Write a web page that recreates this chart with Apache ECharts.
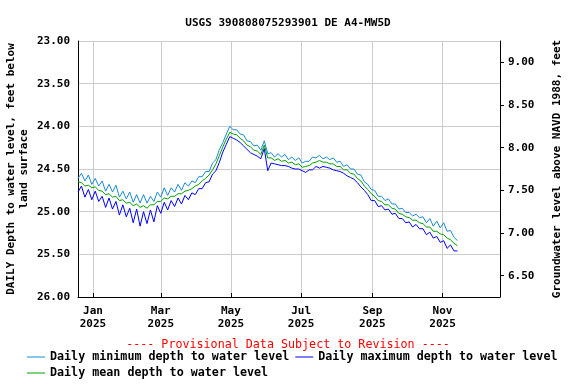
<!DOCTYPE html>
<html lang="en">
<head>
    <meta charset="UTF-8">
    <title>USGS 390808075293901 DE A4-MW5D</title>
    <style>
        body{ margin:0; background:#fff; }
        .container{ width:576px; height:384px; }
    </style>
    <script src="https://cdn.jsdelivr.net/npm/echarts@6/dist/echarts.min.js"></script>
</head>
<body>
    <div class="container"></div>
    <script>
        // daily values sampled every 3 days starting 2024-12-19
        const startDay = [2024, 11, 19];
        const stepDays = 3;

        const meanDepth = [
            24.65, 24.66, 24.70, 24.69, 24.72, 24.71, 24.75, 24.76, 24.80, 24.79,
            24.83, 24.82, 24.87, 24.86, 24.90, 24.89, 24.93, 24.91, 24.95, 24.93,
            24.96, 24.92, 24.92, 24.88, 24.88, 24.84, 24.85, 24.82, 24.82, 24.79,
            24.79, 24.76, 24.75, 24.73, 24.70, 24.68, 24.64, 24.61, 24.57, 24.51,
            24.44, 24.34, 24.24, 24.15, 24.07, 24.09, 24.10, 24.14, 24.17, 24.22,
            24.24, 24.28, 24.29, 24.33, 24.22, 24.37, 24.37, 24.40, 24.38, 24.41,
            24.40, 24.43, 24.42, 24.45, 24.44, 24.48, 24.47, 24.46, 24.43, 24.42,
            24.40, 24.42, 24.42, 24.44, 24.44, 24.47, 24.47, 24.51, 24.51, 24.55,
            24.56, 24.61, 24.64, 24.70, 24.74, 24.79, 24.82, 24.87, 24.88, 24.92,
            24.92, 24.96, 24.97, 25.02, 25.03, 25.06, 25.07, 25.10, 25.10, 25.13,
            25.14, 25.18, 25.18, 25.23, 25.23, 25.26, 25.27, 25.31, 25.33, 25.37,
            25.40
        ];
        const minDepth = [
            24.61, 24.55, 24.64, 24.57, 24.68, 24.61, 24.70, 24.64, 24.76, 24.68,
            24.77, 24.69, 24.83, 24.76, 24.85, 24.77, 24.89, 24.80, 24.90, 24.80,
            24.90, 24.82, 24.88, 24.77, 24.83, 24.72, 24.81, 24.72, 24.77, 24.68,
            24.75, 24.66, 24.70, 24.64, 24.66, 24.59, 24.59, 24.53, 24.53, 24.43,
            24.39, 24.27, 24.19, 24.09, 24.00, 24.04, 24.04, 24.09, 24.10, 24.17,
            24.18, 24.23, 24.22, 24.28, 24.17, 24.32, 24.31, 24.36, 24.32, 24.36,
            24.33, 24.39, 24.36, 24.40, 24.37, 24.43, 24.41, 24.41, 24.36, 24.37,
            24.34, 24.38, 24.36, 24.39, 24.37, 24.42, 24.41, 24.47, 24.45, 24.50,
            24.50, 24.56, 24.57, 24.65, 24.68, 24.74, 24.75, 24.82, 24.82, 24.87,
            24.85, 24.91, 24.91, 24.97, 24.96, 25.01, 25.01, 25.05, 25.03, 25.07,
            25.06, 25.13, 25.08, 25.17, 25.11, 25.19, 25.13, 25.23, 25.22, 25.30,
            25.34
        ];
        const maxDepth = [
            24.77, 24.70, 24.83, 24.74, 24.86, 24.76, 24.88, 24.82, 24.95, 24.84,
            24.97, 24.88, 25.04, 24.92, 25.06, 24.96, 25.13, 24.97, 25.17, 25.00,
            25.14, 24.98, 25.12, 24.93, 25.02, 24.89, 24.98, 24.87, 24.94, 24.84,
            24.91, 24.81, 24.86, 24.78, 24.80, 24.73, 24.73, 24.66, 24.65, 24.56,
            24.52, 24.42, 24.30, 24.21, 24.12, 24.14, 24.16, 24.19, 24.23, 24.27,
            24.31, 24.33, 24.35, 24.38, 24.26, 24.52, 24.43, 24.44, 24.45, 24.46,
            24.46, 24.47, 24.49, 24.50, 24.50, 24.52, 24.54, 24.51, 24.51, 24.47,
            24.49, 24.47, 24.48, 24.49, 24.51, 24.52, 24.53, 24.55, 24.58, 24.60,
            24.62, 24.66, 24.71, 24.75, 24.80, 24.87, 24.87, 24.94, 24.93, 24.98,
            24.97, 25.03, 25.02, 25.08, 25.08, 25.13, 25.12, 25.18, 25.15, 25.20,
            25.20, 25.27, 25.24, 25.31, 25.29, 25.36, 25.34, 25.43, 25.39, 25.46,
            25.46
        ];

        const monthNames = ['Jan','Feb','Mar','Apr','May','Jun','Jul','Aug','Sep','Oct','Nov','Dec'];
        const tickMonths = [[2025,0],[2025,2],[2025,4],[2025,6],[2025,8],[2025,10]];
        const rightTicks = [6.5, 7.0, 7.5, 8.0, 8.5, 9.0];
        // land surface datum offset: elevation = 32.25 - depth
        const datumOffset = 32.25;

        const dates = meanDepth.map((v, i) =>
            new Date(startDay[0], startDay[1], startDay[2] + stepDays * i).getTime());
        const tickTimes = tickMonths.map(m => new Date(m[0], m[1], 1).getTime());
        const pair = arr => arr.map((v, i) => [dates[i], v]);

        const font = 'DejaVu Sans Mono';
        const txt = {fontFamily: font, fontSize: 11, fontWeight: 'bold', color: '#000'};
        const legendText = {fontFamily: font, fontSize: 11.7, fontWeight: 'bold', color: '#000'};

        const chart = echarts.init(document.getElementsByClassName('container')[0]);
        chart.setOption({
            animation: false,
            backgroundColor: '#fff',
            title: [{
                text: 'USGS 390808075293901 DE A4-MW5D',
                left: 'center', top: 13,
                textStyle: txt
            }, {
                text: '---- Provisional Data Subject to Revision ----',
                left: 'center', top: 334,
                textStyle: Object.assign({}, legendText, {color: '#ff0000', fontWeight: 'normal'})
            }],
            legend: [{
                data: ['Daily minimum depth to water level', 'Daily maximum depth to water level'],
                left: 27, top: 351, width: 560, itemGap: 6, padding: 0,
                itemWidth: 18, itemHeight: 1, icon: 'rect',
                textStyle: legendText
            }, {
                data: ['Daily mean depth to water level'],
                left: 27, top: 367, padding: 0,
                itemWidth: 18, itemHeight: 1, icon: 'rect',
                textStyle: legendText
            }],
            grid: {left: 78, right: 76, top: 41, bottom: 87, outerBoundsMode: 'none'},
            xAxis: {
                type: 'value',
                min: new Date(2024, 11, 19).getTime(),
                max: new Date(2025, 11, 21).getTime(),
                axisLine: {lineStyle: {color: '#000'}},
                axisTick: {show: true, inside: true, length: 4, customValues: tickTimes, lineStyle: {color: '#000'}},
                axisLabel: Object.assign({}, txt, {
                    customValues: tickTimes,
                    margin: 8,
                    lineHeight: 13,
                    formatter: function (v) {
                        const d = new Date(v);
                        return monthNames[d.getMonth()] + '\n' + d.getFullYear();
                    }
                }),
                splitLine: {show: true, lineStyle: {color: '#cccccc'}}
            },
            yAxis: [{
                type: 'value',
                inverse: true,
                min: 23, max: 26, interval: 0.5,
                name: 'DAILY Depth to water level, feet below\nland surface',
                nameLocation: 'middle', nameGap: 47, nameRotate: 90,
                nameMoveOverlap: false,
                nameTextStyle: Object.assign({}, txt, {lineHeight: 13}),
                axisLine: {show: true, lineStyle: {color: '#000'}},
                axisTick: {show: false},
                axisLabel: Object.assign({}, txt, {margin: 8, formatter: v => v.toFixed(2)}),
                splitLine: {show: true, lineStyle: {color: '#cccccc'}}
            }, {
                type: 'value',
                min: datumOffset - 26, max: datumOffset - 23,
                name: 'Groundwater level above NAVD 1988, feet',
                nameLocation: 'middle', nameGap: 52, nameRotate: 90,
                nameMoveOverlap: false,
                nameTextStyle: txt,
                axisLine: {show: true, lineStyle: {color: '#000'}},
                axisTick: {show: true, length: 4, customValues: rightTicks, lineStyle: {color: '#000'}},
                axisLabel: Object.assign({}, txt, {margin: 8, customValues: rightTicks, formatter: v => v.toFixed(2)}),
                splitLine: {show: false}
            }],
            series: [{
                name: 'Daily minimum depth to water level',
                type: 'line', showSymbol: false, yAxisIndex: 0,
                lineStyle: {width: 1, color: '#1a8ad4'}, itemStyle: {color: '#1a8ad4'},
                data: pair(minDepth)
            }, {
                name: 'Daily maximum depth to water level',
                type: 'line', showSymbol: false, yAxisIndex: 0,
                lineStyle: {width: 1, color: '#0000ff'}, itemStyle: {color: '#0000ff'},
                data: pair(maxDepth)
            }, {
                name: 'Daily mean depth to water level',
                type: 'line', showSymbol: false, yAxisIndex: 0,
                lineStyle: {width: 1, color: '#00a000'}, itemStyle: {color: '#00a000'},
                data: pair(meanDepth)
            }]
        });
    </script>
</body>
</html>
